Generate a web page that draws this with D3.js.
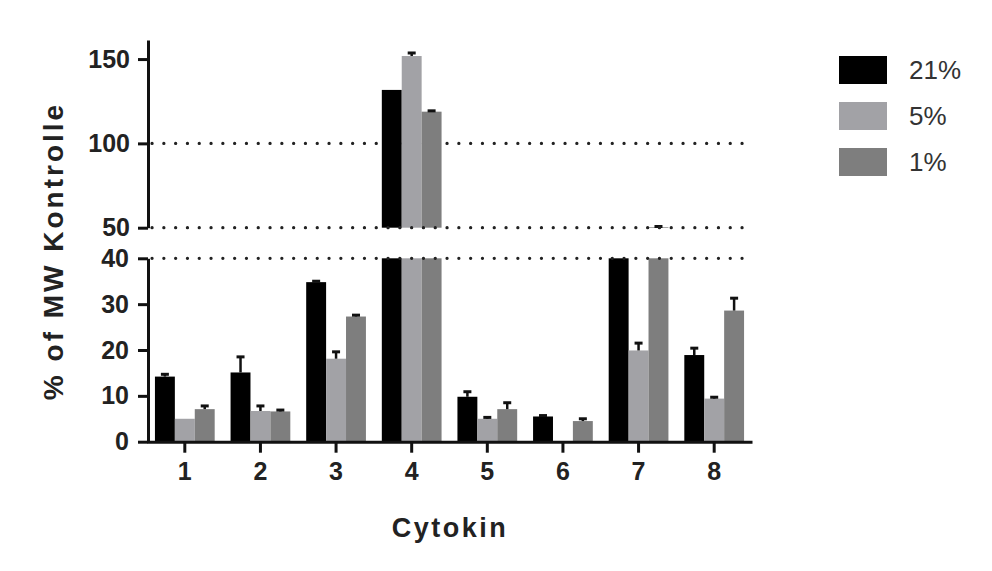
<!DOCTYPE html>
<html>
<head>
<meta charset="utf-8">
<script src="https://cdn.jsdelivr.net/npm/d3@7"></script>
<style>
  body { margin: 0; background: #fff; }
  svg { font-family: "Liberation Sans", Arial, sans-serif; }
</style>
</head>
<body>
<div id="chart"></div>
<script>
const width = 992;
const height = 571;

// data
const categories = ["1", "2", "3", "4", "5", "6", "7", "8"];
const seriesNames = ["21%", "5%", "1%"];
const values21 = [14.2, 15.1, 34.8, 131.7, 9.8, 5.5, 45, 18.9];
const values5 = [5.0, 6.7, 18.1, 151.8, 5.0, 0, 19.9, 9.4];
const values1 = [7.1, 6.6, 27.3, 118.8, 7.1, 4.5, 50.4, 28.6];
const err21 = [0.5, 3.4, 0.2, 0, 1.1, 0.2, 0, 1.5];
const err5 = [0, 1.1, 1.5, 1.8, 0.3, 0, 1.6, 0.3];
const err1 = [0.7, 0.3, 0.3, 0.5, 1.4, 0.5, 0.3, 2.7];
const upperTicks = [50, 100, 150];
const lowerTicks = [0, 10, 20, 30, 40];
const colors = ["#000000", "#a2a2a6", "#7e7e7e"];

const allValues = [values21, values5, values1];
const allErrors = [err21, err5, err1];

const svg = d3.select("#chart").append("svg")
  .attr("width", width)
  .attr("height", height);

// scales
const x = d3.scaleBand()
  .domain(categories)
  .range([147, 752])
  .paddingInner(0.21)
  .paddingOuter(0.105);

const x1 = d3.scaleBand()
  .domain(seriesNames)
  .range([0, x.bandwidth()]);

const yTop = d3.scaleLinear().domain([50, 161.3]).range([227.7, 40]);
const yBot = d3.scaleLinear().domain([0, 40]).range([441.7, 258.3]);

const color = d3.scaleOrdinal().domain(seriesNames).range(colors);

const bars = [];
seriesNames.forEach((name, s) => {
  categories.forEach((cat, i) => {
    bars.push({ cat: cat, name: name, value: allValues[s][i], err: allErrors[s][i] });
  });
});

// dotted reference line
function dotted(yv) {
  svg.append("line")
    .attr("x1", 152)
    .attr("x2", 752)
    .attr("y1", yv)
    .attr("y2", yv)
    .attr("stroke", "#222")
    .attr("stroke-width", 3.2)
    .attr("stroke-linecap", "round")
    .attr("stroke-dasharray", "0.1,11.7");
}

dotted(yTop(100));

// lower segment bars
svg.selectAll(".barLow")
  .data(bars.filter((d) => d.value > 0))
  .enter()
  .append("rect")
  .attr("class", "barLow")
  .attr("x", (d) => x(d.cat) + x1(d.name))
  .attr("width", x1.bandwidth())
  .attr("y", (d) => yBot(Math.min(d.value, 40)))
  .attr("height", (d) => yBot(0) - yBot(Math.min(d.value, 40)))
  .attr("fill", (d) => color(d.name));

// upper segment bars
svg.selectAll(".barHigh")
  .data(bars.filter((d) => d.value > 50))
  .enter()
  .append("rect")
  .attr("class", "barHigh")
  .attr("x", (d) => x(d.cat) + x1(d.name))
  .attr("width", x1.bandwidth())
  .attr("y", (d) => yTop(d.value))
  .attr("height", (d) => yTop(50) - yTop(d.value))
  .attr("fill", (d) => color(d.name));

// error bars (upper only)
const errBars = bars.filter((d) => d.err > 0 && (d.value < 40 || d.value > 50));
const yOf = (v) => (v > 45 ? yTop(v) : yBot(v));

const eb = svg.selectAll(".err")
  .data(errBars)
  .enter()
  .append("g")
  .attr("class", "err");

eb.append("line")
  .attr("x1", (d) => x(d.cat) + x1(d.name) + x1.bandwidth() / 2)
  .attr("x2", (d) => x(d.cat) + x1(d.name) + x1.bandwidth() / 2)
  .attr("y1", (d) => yOf(d.value))
  .attr("y2", (d) => yOf(d.value + d.err))
  .attr("stroke", "#111")
  .attr("stroke-width", 2.5);

eb.append("line")
  .attr("x1", (d) => x(d.cat) + x1(d.name) + x1.bandwidth() / 2 - 4)
  .attr("x2", (d) => x(d.cat) + x1(d.name) + x1.bandwidth() / 2 + 4)
  .attr("y1", (d) => yOf(d.value + d.err))
  .attr("y2", (d) => yOf(d.value + d.err))
  .attr("stroke", "#111")
  .attr("stroke-width", 3);

// dotted lines on the break edges
dotted(yTop(50));
dotted(yBot(40));

// axes
function styleAxis(g) {
  g.selectAll(".domain").attr("stroke", "#111").attr("stroke-width", 3);
  g.selectAll(".tick line").attr("stroke", "#111").attr("stroke-width", 3);
  g.selectAll(".tick text")
    .attr("fill", "#222")
    .style("font-size", "25px")
    .style("font-weight", "bold")
    .style("font-family", "'Liberation Sans', Arial, sans-serif");
}

svg.append("g")
  .attr("transform", "translate(148,0)")
  .call(d3.axisLeft(yTop).tickValues(upperTicks).tickSize(10).tickSizeOuter(0).tickPadding(8))
  .call(styleAxis);

svg.append("g")
  .attr("transform", "translate(148,0)")
  .call(d3.axisLeft(yBot).tickValues(lowerTicks).tickSize(10).tickSizeOuter(0).tickPadding(9))
  .call(styleAxis);

svg.append("g")
  .attr("transform", `translate(0,${yBot(0)})`)
  .call(d3.axisBottom(x).tickSize(11).tickSizeOuter(0).tickPadding(10))
  .call(styleAxis);

// axis titles
svg.append("text")
  .attr("transform", "translate(63,251) rotate(-90)")
  .attr("text-anchor", "middle")
  .attr("fill", "#222")
  .style("font-size", "28px")
  .style("font-weight", "bold")
  .style("letter-spacing", "3px")
  .text("% of MW Kontrolle");

svg.append("text")
  .attr("x", 450)
  .attr("y", 537)
  .attr("text-anchor", "middle")
  .attr("fill", "#222")
  .style("font-size", "27px")
  .style("font-weight", "bold")
  .style("letter-spacing", "2.5px")
  .text("Cytokin");

// legend
const legend = svg.selectAll(".legend")
  .data(seriesNames)
  .enter()
  .append("g")
  .attr("class", "legend")
  .attr("transform", (d, i) => `translate(839,${56 + i * 46})`);

legend.append("rect")
  .attr("width", 48)
  .attr("height", 28)
  .attr("fill", (d) => color(d));

legend.append("text")
  .attr("x", 70)
  .attr("y", 23)
  .attr("fill", "#333")
  .style("font-size", "26px")
  .text((d) => d);
</script>
</body>
</html>
